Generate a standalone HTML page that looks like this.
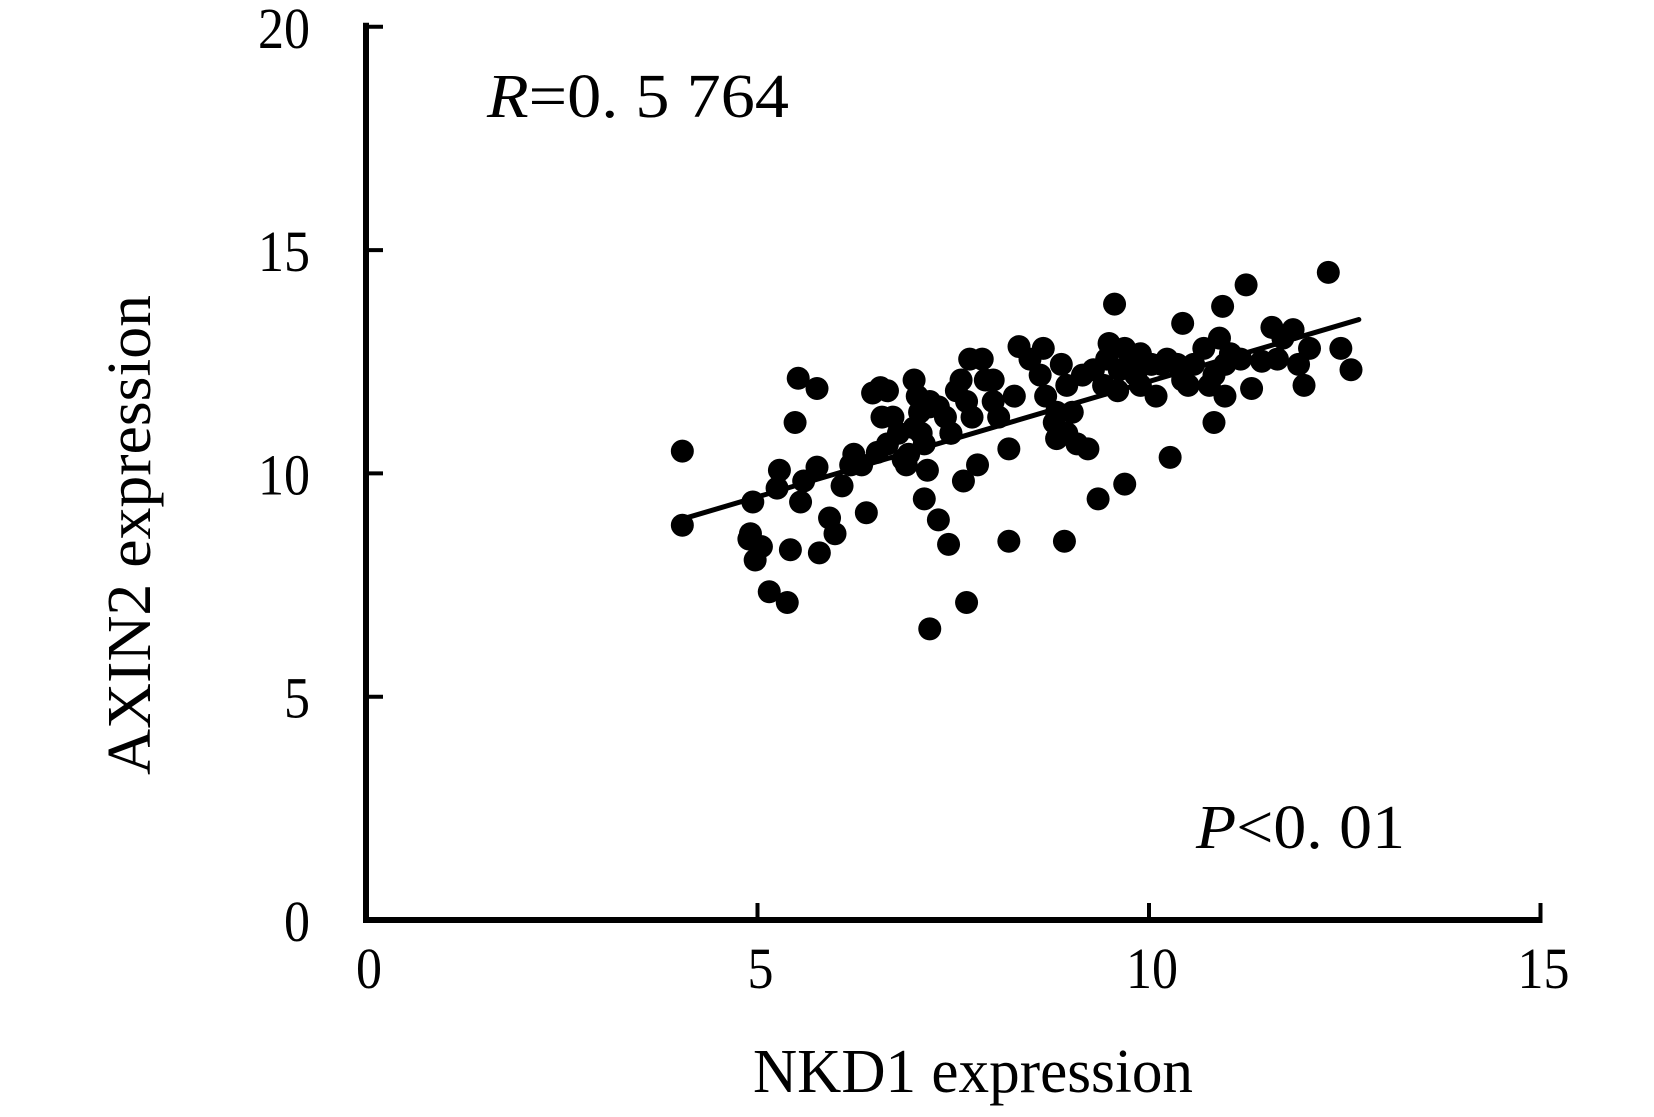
<!DOCTYPE html>
<html><head><meta charset="utf-8"><style>html,body{margin:0;padding:0;background:#fff}svg{display:block}</style></head>
<body>
<svg id="chart" width="1654" height="1117" viewBox="0 0 1654 1117" xmlns="http://www.w3.org/2000/svg" font-family="'Liberation Serif', serif">
<rect width="1654" height="1117" fill="#fff"/>
<g id="marks"></g>
<g id="axes"></g>
<text transform="translate(150,535) rotate(-90)" text-anchor="middle" font-size="62" textLength="480" lengthAdjust="spacingAndGlyphs">AXIN2 expression</text>
<text x="753" y="1092" font-size="62" textLength="440" lengthAdjust="spacingAndGlyphs">NKD1 expression</text>
<text x="487" y="117" font-size="62" textLength="302" lengthAdjust="spacingAndGlyphs"><tspan font-style="italic">R</tspan>=0. 5 764</text>
<text x="1196" y="848" font-size="62" textLength="209" lengthAdjust="spacingAndGlyphs"><tspan font-style="italic">P</tspan>&lt;0. 01</text>
</svg>
<script>
const xTicks = [0, 5, 10, 15];
const yTicks = [0, 5, 10, 15, 20];
const xVals = [4.04,4.04,4.94,4.89,4.97,5.05,4.91,5.28,5.25,5.15,5.38,5.42,5.48,5.52,5.76,5.55,5.76,5.79,5.92,5.99,6.08,6.19,6.39,6.23,6.53,6.47,6.57,6.66,6.73,6.66,6.80,6.86,6.93,6.90,7.00,7.04,7.07,7.00,7.09,7.13,7.17,7.13,7.31,7.44,7.20,7.20,7.31,7.40,7.47,7.54,7.60,7.67,7.74,7.63,7.67,7.81,7.71,7.87,7.91,8.01,8.08,8.21,8.21,8.34,8.48,8.61,8.65,8.68,8.79,8.82,8.88,8.95,9.02,8.95,9.08,9.22,8.92,9.35,9.56,9.49,9.46,9.62,9.69,9.76,9.83,9.69,9.89,10.03,10.16,10.23,10.27,10.36,10.43,10.50,10.57,10.70,10.77,10.90,10.94,10.83,10.97,11.04,11.24,11.31,11.44,11.57,11.64,11.84,11.98,12.05,12.29,12.45,12.58,9.15,9.29,9.42,9.60,10.09,10.43,10.83,10.97,11.17,11.71,11.91,9.89,8.82,8.28,8.01,7.47,7.20,6.59,6.33,5.59];
const yVals = [10.50,8.84,9.36,8.53,8.06,8.36,8.65,10.07,9.67,7.35,7.11,8.29,11.14,12.13,11.90,9.36,10.14,8.22,9.00,8.65,9.72,10.19,9.12,10.43,10.47,11.80,11.92,11.85,11.26,10.66,10.90,10.31,10.43,10.19,12.09,11.73,11.37,11.02,10.90,10.66,10.07,9.43,8.96,8.41,6.52,11.61,11.49,11.26,10.90,11.85,12.09,11.61,11.26,9.83,7.11,10.19,12.56,12.56,12.09,11.61,11.26,10.55,8.48,12.84,12.56,12.20,12.80,11.73,11.14,10.78,12.44,11.97,11.37,10.90,10.66,10.55,8.48,9.43,13.79,12.91,12.56,12.32,12.80,12.44,12.20,9.76,12.68,12.44,12.44,12.56,10.36,12.44,13.36,11.97,12.44,12.80,11.97,13.03,13.74,11.14,11.73,12.68,14.22,11.90,12.51,13.27,12.56,13.22,11.97,12.80,14.50,12.80,12.32,12.20,12.32,11.97,11.85,11.73,12.09,12.20,12.44,12.56,13.03,12.44,11.97,11.37,11.73,12.09,10.90,11.49,11.26,10.19,9.83];
const NS = 'http://www.w3.org/2000/svg';
const X0 = 366, XU = 78.3, Y0 = 920, YU = 44.66;
function sx(v){ return X0 + v * XU; }
function sy(v){ return Y0 - v * YU; }
const marks = document.getElementById('marks');
const axes = document.getElementById('axes');
function mk(tag, attrs, parent){ const e = document.createElementNS(NS, tag); for (const k in attrs) e.setAttribute(k, attrs[k]); parent.appendChild(e); return e; }
xVals.forEach((xv, i) => {
  const c = mk('circle', {cx: sx(xv), cy: sy(yVals[i]), r: 11.5, fill: '#000'}, marks);
  
  
});
const n = xVals.length;
let mx = 0, my = 0; xVals.forEach((v,i)=>{mx+=v;my+=yVals[i];}); mx/=n; my/=n;
let sxy = 0, sxx = 0; xVals.forEach((v,i)=>{sxy+=(v-mx)*(yVals[i]-my); sxx+=(v-mx)*(v-mx);});
const slope = sxy/sxx, icpt = my - slope*mx;
const xmin = Math.min(...xVals), xmax = Math.max(...xVals) + 0.1;
const ln = mk('line', {x1: sx(xmin), y1: sy(icpt+slope*xmin), x2: sx(xmax), y2: sy(icpt+slope*xmax), stroke:'#000', 'stroke-width':5, 'stroke-linecap':'round'}, marks);


const ya = mk('line', {x1: X0, y1: sy(20)-4, x2: X0, y2: Y0+2.5, stroke:'#000', 'stroke-width':6}, axes);


const xa = mk('line', {x1: X0-3, y1: Y0, x2: sx(15)+2, y2: Y0, stroke:'#000', 'stroke-width':6}, axes);


yTicks.forEach(t => {
  if (t > 0) {
    const tk = mk('line', {x1: X0, y1: sy(t), x2: X0+17, y2: sy(t), stroke:'#000', 'stroke-width':4}, axes);
    
    
  }
  const s = String(t);
  const lb = mk('text', {x: 310, y: sy(t)+21, 'text-anchor':'end', 'font-size':58, textLength: 26*s.length, lengthAdjust:'spacingAndGlyphs'}, axes);
  lb.textContent = s;
  
  
});
xTicks.forEach(t => {
  if (t > 0) {
    const tk = mk('line', {x1: sx(t), y1: Y0, x2: sx(t), y2: Y0-17, stroke:'#000', 'stroke-width':4}, axes);
    
    
  }
  const s = String(t);
  const lb = mk('text', {x: sx(t)+3, y: 988, 'text-anchor':'middle', 'font-size':58, textLength: 26*s.length, lengthAdjust:'spacingAndGlyphs'}, axes);
  lb.textContent = s;
  
  
});
</script>
</body></html>
